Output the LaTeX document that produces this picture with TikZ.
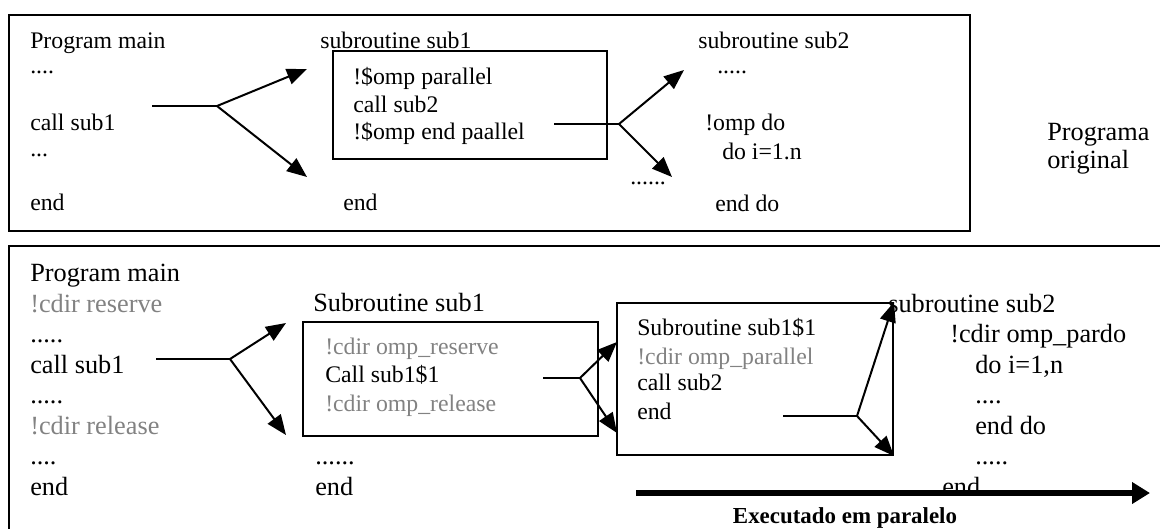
\documentclass[tikz,border=0pt]{standalone}
\usepackage{fontspec}
\setmainfont{Liberation Serif}
\usetikzlibrary{positioning}
\usetikzlibrary{arrows.meta,calc}
\definecolor{dirgray}{RGB}{130,130,130}

\begin{document}
\begin{tikzpicture}[%
    x=0.25mm, y=-0.25mm,
    every node/.style={inner sep=0pt, anchor=base west},
    code/.style={font=\fontsize{16.9pt}{20pt}\selectfont},
    bigcode/.style={font=\fontsize{18.7pt}{22pt}\selectfont},
    dir/.style={text=dirgray},
    frame/.style={draw, line width=0.5mm},
    box/.style={draw, line width=0.5mm, anchor=center},
    plain/.style={line width=0.5mm},
    fork/.style={line width=0.5mm, -{Triangle[length=5mm,width=4mm]}},
    exec/.style={line width=1.5mm, -{Triangle[length=4.5mm,width=5.2mm]}}
]
\useasboundingbox (0,0) rectangle (1160,528);
\clip (0,0) rectangle (1160,528);

% ---------------- Programa original ----------------
\draw[frame] (9,15) rectangle (970,231);

\node[code] (pm1) at (30,48) {Program main};
\node[code] (pm1-d1) at (30,73) {....};
\node[code] (pm1-call) at (30,130) {call sub1};
\node[code] (pm1-d2) at (30,156) {...};
\node[code] (pm1-end) at (30,210) {end};

\node[code] (s1) at (320,48) {subroutine sub1};
\node[box, minimum width=68.5mm, minimum height=27mm] (s1box) at (470,105) {};
\node[code] (s1-par) at (353,84) {!\$omp parallel};
\node[code] (s1-call) at (353,112) {call sub2};
\node[code] (s1-endpar) at (353,139) {!\$omp end paallel};
\node[code] (s1-end) at (343,210) {end};

\node[code] (s1-dots) at (630,184) {......};

\node[code] (s2) at (698,48) {subroutine sub2};
\node[code] (s2-d1) at (717,73) {.....};
\node[code] (s2-do) at (705,130) {!omp do};
\node[code] (s2-loop) at (722,159) {do i=1.n};
\node[code] (s2-enddo) at (715,211) {end do};

\node[bigcode] (orig) at (1047,140) {Programa};
\node[bigcode] (orig2) at (1047,168) {original};

% ---------------- Programa transformado ----------------
\draw[frame] (9,246) rectangle (1180,545);

\node[bigcode] (pm2) at (30,281) {Program main};
\node[bigcode, dir] (pm2-res) at (30,312) {!cdir reserve};
\node[bigcode] (pm2-d1) at (30,342) {.....};
\node[bigcode] (pm2-call) at (30,373) {call sub1};
\node[bigcode] (pm2-d2) at (30,403) {.....};
\node[bigcode, dir] (pm2-rel) at (30,434) {!cdir release};
\node[bigcode] (pm2-d3) at (30,464) {....};
\node[bigcode] (pm2-end) at (30,495) {end};

\node[bigcode] (t1) at (313,311) {Subroutine sub1};
\node[box, minimum width=73.75mm, minimum height=28.5mm] (t1box) at (450.5,379) {};
\node[code, dir] (t1-res) at (325,354) {!cdir omp\_reserve};
\node[code] (t1-call) at (325,382) {Call sub1\$1};
\node[code, dir] (t1-rel) at (325,411) {!cdir omp\_release};
\node[bigcode] (t1-dots) at (315,464) {......};
\node[bigcode] (t1-end) at (315,495) {end};

\node[box, minimum width=69mm, minimum height=38mm] (box3) at (755,379) {};
\node[code] (t11) at (637,335) {Subroutine sub1\$1};
\node[code, dir] (t11-par) at (637,364) {!cdir omp\_parallel};
\node[code] (t11-call) at (637,390) {call sub2};
\node[code] (t11-end) at (637,419) {end};

\node[bigcode] (t2) at (888,312) {subroutine sub2};
\node[bigcode] (t2-pardo) at (950,342) {!cdir omp\_pardo};
\node[bigcode] (t2-loop) at (975,373) {do i=1,n};
\node[bigcode] (t2-d1) at (975,403) {....};
\node[bigcode] (t2-enddo) at (975,434) {end do};
\node[bigcode] (t2-d2) at (975,464) {.....};
\node[bigcode] (t2-end) at (942,495) {end};

% ---------------- Forks ----------------
\coordinate (f1-in) at (152,106);  \coordinate (f1) at (217,106);
\coordinate (f1-up) at (307,69);   \coordinate (f1-dn) at (307,177);
\coordinate (f2-in) at (554,124);  \coordinate (f2) at (619,124);
\coordinate (f2-up) at (684,70);   \coordinate (f2-dn) at (672,177);
\coordinate (f3-in) at (156,359);  \coordinate (f3) at (230,359);
\coordinate (f3-up) at (286,323);  \coordinate (f3-dn) at (286,435);
\coordinate (f4-in) at (543,378);  \coordinate (f4) at (580,378);
\coordinate (f4-up) at (617,342);  \coordinate (f4-dn) at (617,433);
\coordinate (f5-in) at (783,416);  \coordinate (f5) at (857,416);
\coordinate (f5-up) at (box3.north east);
\coordinate (f5-dn) at (box3.south east);

\foreach \f in {f1,f2,f3,f4,f5} {
    \draw[plain] (\f-in) -- (\f);
    \draw[fork] (\f) -- (\f-up);
    \draw[fork] (\f) -- (\f-dn);
}

% ---------------- Executado em paralelo ----------------
\coordinate (ex-from) at (636,493);
\coordinate (ex-to) at (1150,493);
\draw[exec] (ex-from) -- (ex-to);
\node[font=\bfseries\fontsize{16.3pt}{18pt}\selectfont, anchor=base] (ex-lbl) at (845,523) {Executado em paralelo};

\end{tikzpicture}
\end{document}
